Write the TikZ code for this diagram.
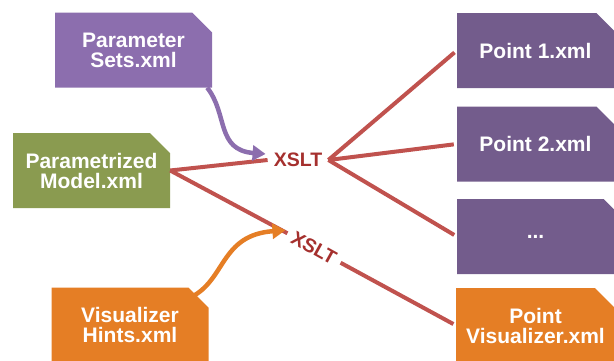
\documentclass[tikz,border=0pt]{standalone}
\usepackage{fontspec}
\setmainfont{Liberation Sans}
\usetikzlibrary{shapes.misc,arrows.meta}
\definecolor{setpurple}{RGB}{140,110,174}
\definecolor{ptpurple}{RGB}{115,92,140}
\definecolor{modelgreen}{RGB}{138,155,80}
\definecolor{hintorange}{RGB}{229,126,37}
\definecolor{xslred}{RGB}{192,82,78}
\definecolor{xsltext}{RGB}{165,48,46}
\begin{document}
\begin{tikzpicture}[x=1pt,y=1pt,
  file/.style={chamfered rectangle,chamfered rectangle corners=north east,
    chamfered rectangle xsep=10pt,chamfered rectangle ysep=10pt,
    minimum width=157pt,minimum height=75pt,inner sep=0pt,align=center,
    text=white,font=\fontsize{21}{20}\selectfont\bfseries},
  xsl/.style={text=xsltext,inner sep=6pt,font=\fontsize{19.5}{19.5}\selectfont\bfseries},
  link/.style={draw=xslred,line width=4pt},
  feed/.style={line width=4.5pt,-{Triangle[length=13pt,width=15pt]}}]
\useasboundingbox (0,0) rectangle (614,360);
\node[file,fill=setpurple] (params) at (133.5,310) {Parameter\\Sets.xml};
\node[file,fill=modelgreen] (model) at (91.5,189.5) {Parametrized\\Model.xml};
\node[file,fill=hintorange] (hints) at (130,35) {Visualizer\\Hints.xml};
\node[file,fill=ptpurple] (pt1) at (535.5,309.5) {Point 1.xml};
\node[file,fill=ptpurple] (pt2) at (535.5,216) {Point 2.xml};
\node[file,fill=ptpurple] (ptdots) at (535.5,123.5) {...};
\node[file,fill=hintorange] (ptvis) at (535.5,34.5) {Point\\Visualizer.xml};
\node[xsl] (xslta) at (298,200) {XSLT};
\node[xsl,rotate=-29] (xsltb) at (314,112) {XSLT};
\draw[link] (model.east) -- (xslta.west);
\draw[link] (model.east) -- (xsltb.west);
\draw[link,shorten >=3pt] (xslta.east) -- (pt1.west);
\draw[link,shorten >=3pt] (xslta.east) -- (pt2.west);
\draw[link,shorten >=3pt] (xslta.east) -- (ptdots.west);
\draw[link,shorten >=3pt] (xsltb.east) -- (ptvis.west);
\draw[feed,setpurple] ([xshift=-5pt]params.south east) .. controls (228,246) and (216,210) .. ([xshift=-2pt,yshift=6pt]xslta.west);
\draw[feed,hintorange] ([xshift=-8pt]hints.north east) .. controls (226,80) and (220,125) .. ([xshift=-2pt,yshift=3pt]xsltb.west);
\end{tikzpicture}
\end{document}
